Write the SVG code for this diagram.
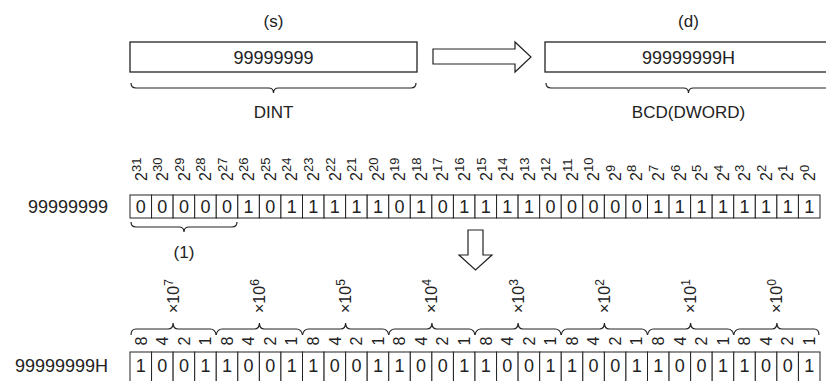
<svg xmlns="http://www.w3.org/2000/svg" width="826" height="381" viewBox="0 0 826 381">
<style>
text{font-family:"Liberation Sans",Arial,sans-serif;fill:#222}
.t17{font-size:17px}
.t18{font-size:18px}
.mid{text-anchor:middle}
.box{fill:#fff;stroke:#222;stroke-width:1.3}
.cell{fill:#fff;stroke:#222;stroke-width:1}
.br{fill:none;stroke:#222;stroke-width:1.2}
.arr{fill:#fff;stroke:#222;stroke-width:1.2}
.d{font-size:18px;text-anchor:middle}
.e{font-size:16px}
.es{font-size:13px}
.w{font-size:16px;text-anchor:middle}
.x{font-size:16px}
.xs{font-size:12px}
</style>
<g id="src">
<text class="t17 mid" x="273.5" y="27">(s)</text>
<rect class="box" x="130" y="42" width="287" height="30"/>
<text class="t18 mid" x="273.5" y="63.5">99999999</text>
<path class="br" d="M131,83 Q131,88 136,88 L268.5,88 Q273.5,88 273.5,93 Q273.5,88 278.5,88 L411,88 Q416,88 416,83"/>
<text class="t17 mid" x="273.5" y="118">DINT</text>
</g>
<g id="dst">
<text class="t17 mid" x="688.5" y="27">(d)</text>
<rect class="box" x="545" y="42" width="287" height="30"/>
<text class="t18 mid" x="688.5" y="63.5">99999999H</text>
<path class="br" d="M546,83 Q546,88 551,88 L683.5,88 Q688.5,88 688.5,93 Q688.5,88 693.5,88 L826,88 Q831,88 831,83"/>
<text class="t17 mid" x="688.5" y="118">BCD(DWORD)</text>
</g>
<g id="connectors">
<polygon class="arr" points="433,49 515,49 515,42 531,57 515,72 515,64 433,64"/>
<polygon class="arr" points="468,230 483,230 483,255 492,255 475.5,270 459,255 468,255"/>
</g>
<g id="row1">
<text class="t18" x="108" y="213" text-anchor="end">99999999</text>
</g>
<g id="bits1">
<rect class="cell" x="130" y="195" width="21.5625" height="23"/>
<rect class="cell" x="151.5625" y="195" width="21.5625" height="23"/>
<rect class="cell" x="173.125" y="195" width="21.5625" height="23"/>
<rect class="cell" x="194.6875" y="195" width="21.5625" height="23"/>
<rect class="cell" x="216.25" y="195" width="21.5625" height="23"/>
<rect class="cell" x="237.8125" y="195" width="21.5625" height="23"/>
<rect class="cell" x="259.375" y="195" width="21.5625" height="23"/>
<rect class="cell" x="280.9375" y="195" width="21.5625" height="23"/>
<rect class="cell" x="302.5" y="195" width="21.5625" height="23"/>
<rect class="cell" x="324.0625" y="195" width="21.5625" height="23"/>
<rect class="cell" x="345.625" y="195" width="21.5625" height="23"/>
<rect class="cell" x="367.1875" y="195" width="21.5625" height="23"/>
<rect class="cell" x="388.75" y="195" width="21.5625" height="23"/>
<rect class="cell" x="410.3125" y="195" width="21.5625" height="23"/>
<rect class="cell" x="431.875" y="195" width="21.5625" height="23"/>
<rect class="cell" x="453.4375" y="195" width="21.5625" height="23"/>
<rect class="cell" x="475" y="195" width="21.5625" height="23"/>
<rect class="cell" x="496.5625" y="195" width="21.5625" height="23"/>
<rect class="cell" x="518.125" y="195" width="21.5625" height="23"/>
<rect class="cell" x="539.6875" y="195" width="21.5625" height="23"/>
<rect class="cell" x="561.25" y="195" width="21.5625" height="23"/>
<rect class="cell" x="582.8125" y="195" width="21.5625" height="23"/>
<rect class="cell" x="604.375" y="195" width="21.5625" height="23"/>
<rect class="cell" x="625.9375" y="195" width="21.5625" height="23"/>
<rect class="cell" x="647.5" y="195" width="21.5625" height="23"/>
<rect class="cell" x="669.0625" y="195" width="21.5625" height="23"/>
<rect class="cell" x="690.625" y="195" width="21.5625" height="23"/>
<rect class="cell" x="712.1875" y="195" width="21.5625" height="23"/>
<rect class="cell" x="733.75" y="195" width="21.5625" height="23"/>
<rect class="cell" x="755.3125" y="195" width="21.5625" height="23"/>
<rect class="cell" x="776.875" y="195" width="21.5625" height="23"/>
<rect class="cell" x="798.4375" y="195" width="21.5625" height="23"/>
<text class="d" x="140.8" y="213">0</text>
<text class="d" x="162.3" y="213">0</text>
<text class="d" x="183.9" y="213">0</text>
<text class="d" x="205.5" y="213">0</text>
<text class="d" x="227.0" y="213">0</text>
<text class="d" x="248.6" y="213">1</text>
<text class="d" x="270.2" y="213">0</text>
<text class="d" x="291.7" y="213">1</text>
<text class="d" x="313.3" y="213">1</text>
<text class="d" x="334.8" y="213">1</text>
<text class="d" x="356.4" y="213">1</text>
<text class="d" x="378.0" y="213">1</text>
<text class="d" x="399.5" y="213">0</text>
<text class="d" x="421.1" y="213">1</text>
<text class="d" x="442.7" y="213">0</text>
<text class="d" x="464.2" y="213">1</text>
<text class="d" x="485.8" y="213">1</text>
<text class="d" x="507.3" y="213">1</text>
<text class="d" x="528.9" y="213">1</text>
<text class="d" x="550.5" y="213">0</text>
<text class="d" x="572.0" y="213">0</text>
<text class="d" x="593.6" y="213">0</text>
<text class="d" x="615.2" y="213">0</text>
<text class="d" x="636.7" y="213">0</text>
<text class="d" x="658.3" y="213">1</text>
<text class="d" x="679.8" y="213">1</text>
<text class="d" x="701.4" y="213">1</text>
<text class="d" x="723.0" y="213">1</text>
<text class="d" x="744.5" y="213">1</text>
<text class="d" x="766.1" y="213">1</text>
<text class="d" x="787.7" y="213">1</text>
<text class="d" x="809.2" y="213">1</text>
</g>
<g id="exp">
<text class="e" transform="translate(146.5,181) rotate(-90)">2<tspan class="es" dy="-6">31</tspan></text>
<text class="e" transform="translate(168.0,181) rotate(-90)">2<tspan class="es" dy="-6">30</tspan></text>
<text class="e" transform="translate(189.6,181) rotate(-90)">2<tspan class="es" dy="-6">29</tspan></text>
<text class="e" transform="translate(211.2,181) rotate(-90)">2<tspan class="es" dy="-6">28</tspan></text>
<text class="e" transform="translate(232.7,181) rotate(-90)">2<tspan class="es" dy="-6">27</tspan></text>
<text class="e" transform="translate(254.3,181) rotate(-90)">2<tspan class="es" dy="-6">26</tspan></text>
<text class="e" transform="translate(275.9,181) rotate(-90)">2<tspan class="es" dy="-6">25</tspan></text>
<text class="e" transform="translate(297.4,181) rotate(-90)">2<tspan class="es" dy="-6">24</tspan></text>
<text class="e" transform="translate(319.0,181) rotate(-90)">2<tspan class="es" dy="-6">23</tspan></text>
<text class="e" transform="translate(340.5,181) rotate(-90)">2<tspan class="es" dy="-6">22</tspan></text>
<text class="e" transform="translate(362.1,181) rotate(-90)">2<tspan class="es" dy="-6">21</tspan></text>
<text class="e" transform="translate(383.7,181) rotate(-90)">2<tspan class="es" dy="-6">20</tspan></text>
<text class="e" transform="translate(405.2,181) rotate(-90)">2<tspan class="es" dy="-6">19</tspan></text>
<text class="e" transform="translate(426.8,181) rotate(-90)">2<tspan class="es" dy="-6">18</tspan></text>
<text class="e" transform="translate(448.4,181) rotate(-90)">2<tspan class="es" dy="-6">17</tspan></text>
<text class="e" transform="translate(469.9,181) rotate(-90)">2<tspan class="es" dy="-6">16</tspan></text>
<text class="e" transform="translate(491.5,181) rotate(-90)">2<tspan class="es" dy="-6">15</tspan></text>
<text class="e" transform="translate(513.0,181) rotate(-90)">2<tspan class="es" dy="-6">14</tspan></text>
<text class="e" transform="translate(534.6,181) rotate(-90)">2<tspan class="es" dy="-6">13</tspan></text>
<text class="e" transform="translate(556.2,181) rotate(-90)">2<tspan class="es" dy="-6">12</tspan></text>
<text class="e" transform="translate(577.7,181) rotate(-90)">2<tspan class="es" dy="-6">11</tspan></text>
<text class="e" transform="translate(599.3,181) rotate(-90)">2<tspan class="es" dy="-6">10</tspan></text>
<text class="e" transform="translate(620.9,181) rotate(-90)">2<tspan class="es" dy="-6">9</tspan></text>
<text class="e" transform="translate(642.4,181) rotate(-90)">2<tspan class="es" dy="-6">8</tspan></text>
<text class="e" transform="translate(664.0,181) rotate(-90)">2<tspan class="es" dy="-6">7</tspan></text>
<text class="e" transform="translate(685.5,181) rotate(-90)">2<tspan class="es" dy="-6">6</tspan></text>
<text class="e" transform="translate(707.1,181) rotate(-90)">2<tspan class="es" dy="-6">5</tspan></text>
<text class="e" transform="translate(728.7,181) rotate(-90)">2<tspan class="es" dy="-6">4</tspan></text>
<text class="e" transform="translate(750.2,181) rotate(-90)">2<tspan class="es" dy="-6">3</tspan></text>
<text class="e" transform="translate(771.8,181) rotate(-90)">2<tspan class="es" dy="-6">2</tspan></text>
<text class="e" transform="translate(793.4,181) rotate(-90)">2<tspan class="es" dy="-6">1</tspan></text>
<text class="e" transform="translate(814.9,181) rotate(-90)">2<tspan class="es" dy="-6">0</tspan></text>
</g>
<g id="note1">
<path class="br" d="M131,222 Q131,227 136,227 L179,227 Q184,227 184,232 Q184,227 189,227 L232,227 Q237,227 237,222"/>
<text class="t17 mid" x="184" y="258">(1)</text>
</g>
<g id="decades">
<text class="x" transform="translate(178.6,313) rotate(-90)">×10<tspan class="xs" dy="-6">7</tspan></text>
<text class="x" transform="translate(264.9,313) rotate(-90)">×10<tspan class="xs" dy="-6">6</tspan></text>
<text class="x" transform="translate(351.1,313) rotate(-90)">×10<tspan class="xs" dy="-6">5</tspan></text>
<text class="x" transform="translate(437.4,313) rotate(-90)">×10<tspan class="xs" dy="-6">4</tspan></text>
<text class="x" transform="translate(523.6,313) rotate(-90)">×10<tspan class="xs" dy="-6">3</tspan></text>
<text class="x" transform="translate(609.9,313) rotate(-90)">×10<tspan class="xs" dy="-6">2</tspan></text>
<text class="x" transform="translate(696.1,313) rotate(-90)">×10<tspan class="xs" dy="-6">1</tspan></text>
<text class="x" transform="translate(782.4,313) rotate(-90)">×10<tspan class="xs" dy="-6">0</tspan></text>
<path class="br" d="M131,335 Q131,329 136,329 L168.1,329 Q173.1,329 173.1,323 Q173.1,329 178.1,329 L210.2,329 Q215.2,329 216.2,335"/>
<path class="br" d="M216.2,335 Q217.2,329 222.2,329 L254.4,329 Q259.4,329 259.4,323 Q259.4,329 264.4,329 L296.5,329 Q301.5,329 302.5,335"/>
<path class="br" d="M302.5,335 Q303.5,329 308.5,329 L340.6,329 Q345.6,329 345.6,323 Q345.6,329 350.6,329 L382.7,329 Q387.7,329 388.7,335"/>
<path class="br" d="M388.7,335 Q389.7,329 394.7,329 L426.9,329 Q431.9,329 431.9,323 Q431.9,329 436.9,329 L469,329 Q474,329 475,335"/>
<path class="br" d="M475,335 Q476,329 481,329 L513.1,329 Q518.1,329 518.1,323 Q518.1,329 523.1,329 L555.2,329 Q560.2,329 561.2,335"/>
<path class="br" d="M561.2,335 Q562.2,329 567.2,329 L599.4,329 Q604.4,329 604.4,323 Q604.4,329 609.4,329 L641.5,329 Q646.5,329 647.5,335"/>
<path class="br" d="M647.5,335 Q648.5,329 653.5,329 L685.6,329 Q690.6,329 690.6,323 Q690.6,329 695.6,329 L727.7,329 Q732.7,329 733.7,335"/>
<path class="br" d="M733.7,335 Q734.7,329 739.7,329 L771.9,329 Q776.9,329 776.9,323 Q776.9,329 781.9,329 L814,329 Q819,329 819,335"/>
</g>
<g id="weights">
<text class="w" transform="translate(146.5,341) rotate(-90)">8</text>
<text class="w" transform="translate(168.0,341) rotate(-90)">4</text>
<text class="w" transform="translate(189.6,341) rotate(-90)">2</text>
<text class="w" transform="translate(211.2,341) rotate(-90)">1</text>
<text class="w" transform="translate(232.7,341) rotate(-90)">8</text>
<text class="w" transform="translate(254.3,341) rotate(-90)">4</text>
<text class="w" transform="translate(275.9,341) rotate(-90)">2</text>
<text class="w" transform="translate(297.4,341) rotate(-90)">1</text>
<text class="w" transform="translate(319.0,341) rotate(-90)">8</text>
<text class="w" transform="translate(340.5,341) rotate(-90)">4</text>
<text class="w" transform="translate(362.1,341) rotate(-90)">2</text>
<text class="w" transform="translate(383.7,341) rotate(-90)">1</text>
<text class="w" transform="translate(405.2,341) rotate(-90)">8</text>
<text class="w" transform="translate(426.8,341) rotate(-90)">4</text>
<text class="w" transform="translate(448.4,341) rotate(-90)">2</text>
<text class="w" transform="translate(469.9,341) rotate(-90)">1</text>
<text class="w" transform="translate(491.5,341) rotate(-90)">8</text>
<text class="w" transform="translate(513.0,341) rotate(-90)">4</text>
<text class="w" transform="translate(534.6,341) rotate(-90)">2</text>
<text class="w" transform="translate(556.2,341) rotate(-90)">1</text>
<text class="w" transform="translate(577.7,341) rotate(-90)">8</text>
<text class="w" transform="translate(599.3,341) rotate(-90)">4</text>
<text class="w" transform="translate(620.9,341) rotate(-90)">2</text>
<text class="w" transform="translate(642.4,341) rotate(-90)">1</text>
<text class="w" transform="translate(664.0,341) rotate(-90)">8</text>
<text class="w" transform="translate(685.5,341) rotate(-90)">4</text>
<text class="w" transform="translate(707.1,341) rotate(-90)">2</text>
<text class="w" transform="translate(728.7,341) rotate(-90)">1</text>
<text class="w" transform="translate(750.2,341) rotate(-90)">8</text>
<text class="w" transform="translate(771.8,341) rotate(-90)">4</text>
<text class="w" transform="translate(793.4,341) rotate(-90)">2</text>
<text class="w" transform="translate(814.9,341) rotate(-90)">1</text>
</g>
<g id="row2">
<text class="t18" x="108" y="372" text-anchor="end">99999999H</text>
<rect class="cell" x="130" y="352" width="21.5625" height="34"/>
<rect class="cell" x="151.5625" y="352" width="21.5625" height="34"/>
<rect class="cell" x="173.125" y="352" width="21.5625" height="34"/>
<rect class="cell" x="194.6875" y="352" width="21.5625" height="34"/>
<rect class="cell" x="216.25" y="352" width="21.5625" height="34"/>
<rect class="cell" x="237.8125" y="352" width="21.5625" height="34"/>
<rect class="cell" x="259.375" y="352" width="21.5625" height="34"/>
<rect class="cell" x="280.9375" y="352" width="21.5625" height="34"/>
<rect class="cell" x="302.5" y="352" width="21.5625" height="34"/>
<rect class="cell" x="324.0625" y="352" width="21.5625" height="34"/>
<rect class="cell" x="345.625" y="352" width="21.5625" height="34"/>
<rect class="cell" x="367.1875" y="352" width="21.5625" height="34"/>
<rect class="cell" x="388.75" y="352" width="21.5625" height="34"/>
<rect class="cell" x="410.3125" y="352" width="21.5625" height="34"/>
<rect class="cell" x="431.875" y="352" width="21.5625" height="34"/>
<rect class="cell" x="453.4375" y="352" width="21.5625" height="34"/>
<rect class="cell" x="475" y="352" width="21.5625" height="34"/>
<rect class="cell" x="496.5625" y="352" width="21.5625" height="34"/>
<rect class="cell" x="518.125" y="352" width="21.5625" height="34"/>
<rect class="cell" x="539.6875" y="352" width="21.5625" height="34"/>
<rect class="cell" x="561.25" y="352" width="21.5625" height="34"/>
<rect class="cell" x="582.8125" y="352" width="21.5625" height="34"/>
<rect class="cell" x="604.375" y="352" width="21.5625" height="34"/>
<rect class="cell" x="625.9375" y="352" width="21.5625" height="34"/>
<rect class="cell" x="647.5" y="352" width="21.5625" height="34"/>
<rect class="cell" x="669.0625" y="352" width="21.5625" height="34"/>
<rect class="cell" x="690.625" y="352" width="21.5625" height="34"/>
<rect class="cell" x="712.1875" y="352" width="21.5625" height="34"/>
<rect class="cell" x="733.75" y="352" width="21.5625" height="34"/>
<rect class="cell" x="755.3125" y="352" width="21.5625" height="34"/>
<rect class="cell" x="776.875" y="352" width="21.5625" height="34"/>
<rect class="cell" x="798.4375" y="352" width="21.5625" height="34"/>
<text class="d" x="140.8" y="372">1</text>
<text class="d" x="162.3" y="372">0</text>
<text class="d" x="183.9" y="372">0</text>
<text class="d" x="205.5" y="372">1</text>
<text class="d" x="227.0" y="372">1</text>
<text class="d" x="248.6" y="372">0</text>
<text class="d" x="270.2" y="372">0</text>
<text class="d" x="291.7" y="372">1</text>
<text class="d" x="313.3" y="372">1</text>
<text class="d" x="334.8" y="372">0</text>
<text class="d" x="356.4" y="372">0</text>
<text class="d" x="378.0" y="372">1</text>
<text class="d" x="399.5" y="372">1</text>
<text class="d" x="421.1" y="372">0</text>
<text class="d" x="442.7" y="372">0</text>
<text class="d" x="464.2" y="372">1</text>
<text class="d" x="485.8" y="372">1</text>
<text class="d" x="507.3" y="372">0</text>
<text class="d" x="528.9" y="372">0</text>
<text class="d" x="550.5" y="372">1</text>
<text class="d" x="572.0" y="372">1</text>
<text class="d" x="593.6" y="372">0</text>
<text class="d" x="615.2" y="372">0</text>
<text class="d" x="636.7" y="372">1</text>
<text class="d" x="658.3" y="372">1</text>
<text class="d" x="679.8" y="372">0</text>
<text class="d" x="701.4" y="372">0</text>
<text class="d" x="723.0" y="372">1</text>
<text class="d" x="744.5" y="372">1</text>
<text class="d" x="766.1" y="372">0</text>
<text class="d" x="787.7" y="372">0</text>
<text class="d" x="809.2" y="372">1</text>
</g>
</svg>
